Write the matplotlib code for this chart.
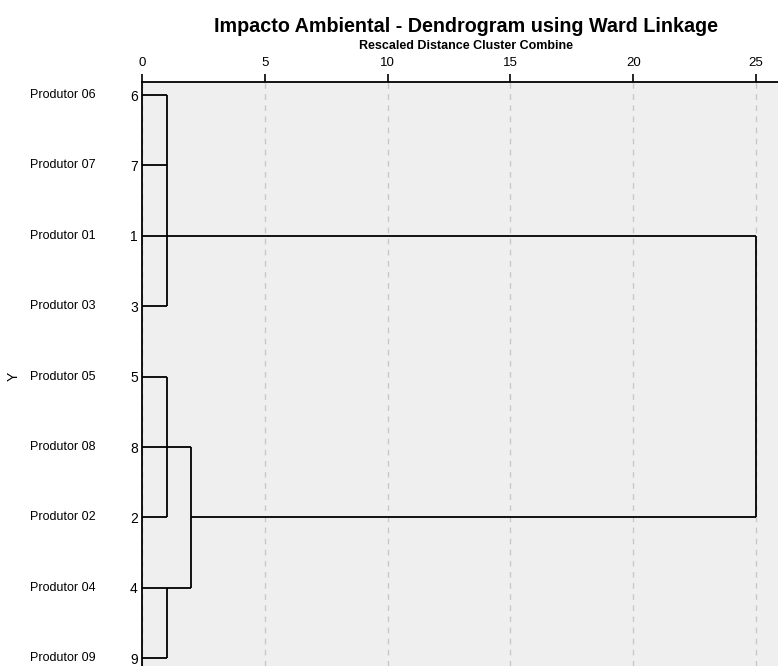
"""Ward-linkage dendrogram of the environmental impact scores (SPSS style)."""

import matplotlib.pyplot as plt
from matplotlib.transforms import blended_transform_factory

plt.rcParams["font.family"] = ["Liberation Sans", "DejaVu Sans"]

# leaves, top to bottom
leaf_ids = ["6", "7", "1", "3", "5", "8", "2", "4", "9"]
leaf_names = [
    "Produtor 06", "Produtor 07", "Produtor 01", "Produtor 03", "Produtor 05",
    "Produtor 08", "Produtor 02", "Produtor 04", "Produtor 09",
]

# merges: node numbers 0..8 are leaves, new nodes get 9, 10, ...
merge_children = [[0, 1, 2, 3], [4, 5, 6], [7, 8], [10, 11], [9, 12]]
merge_heights = [1.0, 1.0, 1.0, 2.0, 25.0]  # rescaled distance
merge_rows = [2, 5, 7, 6, 4]                # row where the link leaves the cluster

xticks = [0, 5, 10, 15, 20, 25]


def draw_dendrogram(ax):
    n = len(leaf_ids)
    height = {i: 0.0 for i in range(n)}
    row = {i: float(i) for i in range(n)}
    for k, (kids, h, r) in enumerate(zip(merge_children, merge_heights, merge_rows)):
        node = n + k
        rows = []
        for c in kids:
            ax.plot([height[c], h], [row[c], row[c]], color="black", lw=1.3,
                    solid_capstyle="butt", zorder=3)
            rows.append(row[c])
        ax.plot([h, h], [min(rows), max(rows)], color="black", lw=1.3,
                solid_capstyle="butt", zorder=3)
        height[node] = h
        row[node] = float(r)


fig = plt.figure(figsize=(7.78, 6.66), dpi=100)
ax = fig.add_axes([142 / 778, 0, 1 - 142 / 778, 1 - 82 / 666])
ax.set_facecolor("#efefef")

draw_dendrogram(ax)

ax.set_xlim(0, (778 - 142) / 24.56)
ax.set_ylim(8.11, -0.185)

ax.xaxis.tick_top()
ax.set_xticks(xticks)
ax.set_xticklabels([str(t) for t in xticks], fontsize=9.5)
ax.tick_params(axis="x", direction="out", length=6, width=1.2, pad=3)
ax.grid(axis="x", linestyle=(0, (4, 4)), color="#c8c8c8", lw=1, zorder=1)

ax.set_yticks(range(len(leaf_ids)))
ax.set_yticklabels(leaf_ids, fontsize=10)
ax.tick_params(axis="y", length=0, pad=3)

for side in ("right", "bottom"):
    ax.spines[side].set_visible(False)
for side in ("top", "left"):
    ax.spines[side].set_linewidth(1.3)

trans = blended_transform_factory(fig.transFigure, ax.transData)
for i, name in enumerate(leaf_names):
    ax.text(30 / 778, i, name, transform=trans, ha="left", va="center", fontsize=9)

fig.text(14 / 778, (666 - 376) / 666, "Y", rotation=90, ha="center", va="center",
         fontsize=10)

fig.text(466 / 778, 1 - 27 / 666, "Impacto Ambiental - Dendrogram using Ward Linkage",
         ha="center", va="center", fontsize=14.2, fontweight="bold")
fig.text(466 / 778, 1 - 46 / 666, "Rescaled Distance Cluster Combine",
         ha="center", va="center", fontsize=9, fontweight="bold")

fig.savefig("out.png", dpi=100)
